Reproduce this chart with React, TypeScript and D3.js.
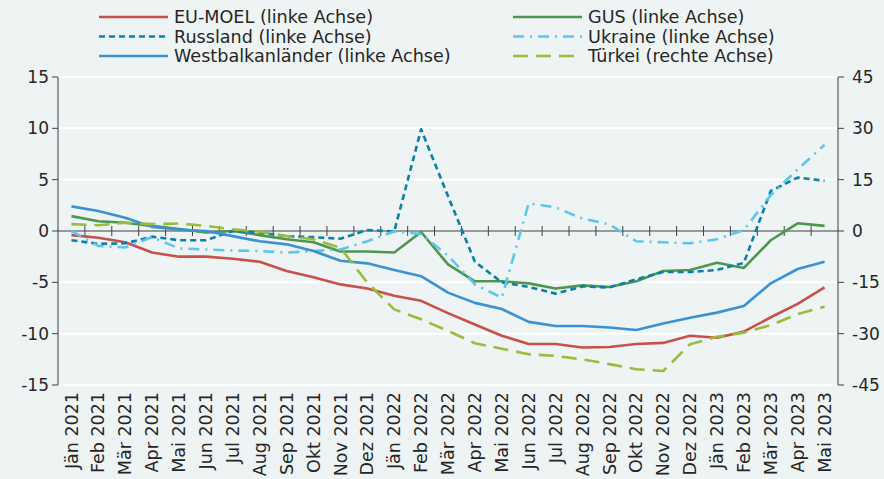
import React from 'react'
import * as d3 from 'd3'

const months = [
  'Jän 2021', 'Feb 2021', 'Mär 2021', 'Apr 2021', 'Mai 2021', 'Jun 2021', 'Jul 2021',
  'Aug 2021', 'Sep 2021', 'Okt 2021', 'Nov 2021', 'Dez 2021', 'Jän 2022', 'Feb 2022',
  'Mär 2022', 'Apr 2022', 'Mai 2022', 'Jun 2022', 'Jul 2022', 'Aug 2022', 'Sep 2022',
  'Okt 2022', 'Nov 2022', 'Dez 2022', 'Jän 2023', 'Feb 2023', 'Mär 2023', 'Apr 2023',
  'Mai 2023',
]

// left axis series
const euMoel = [
  -0.4, -0.65, -1.1, -2.1, -2.5, -2.5, -2.7, -3.0, -3.9, -4.5, -5.2, -5.6, -6.3, -6.8,
  -8.0, -9.1, -10.2, -11.0, -11.0, -11.35, -11.3, -11.0, -10.9, -10.2, -10.4, -9.8,
  -8.4, -7.1, -5.5,
]
const gus = [
  1.45, 0.95, 0.8, 0.5, 0.2, -0.15, 0.0, -0.4, -0.8, -1.1, -2.0, -2.0, -2.1, -0.1,
  -3.25, -4.9, -4.9, -5.1, -5.6, -5.3, -5.45, -4.9, -3.9, -3.8, -3.1, -3.6, -0.9, 0.75,
  0.5,
]
const russland = [
  -0.9, -1.25, -1.2, -0.55, -0.9, -0.9, 0.0, -0.15, -0.5, -0.6, -0.75, 0.1, -0.05, 9.9,
  3.4, -3.0, -5.0, -5.45, -6.1, -5.4, -5.5, -4.7, -4.0, -4.0, -3.8, -3.1, 3.9, 5.2, 4.9,
]
const ukraine = [
  0.0, -1.45, -1.6, -0.6, -1.7, -1.8, -1.9, -1.95, -2.1, -1.95, -1.8, -1.0, -0.05, -0.3,
  -2.4, -5.2, -6.5, 2.7, 2.3, 1.2, 0.65, -1.0, -1.1, -1.2, -0.8, 0.1, 3.5, 6.0, 8.4,
]
const westbalkan = [
  2.4, 1.95, 1.3, 0.4, 0.15, 0.0, -0.5, -1.0, -1.3, -1.95, -2.9, -3.15, -3.8, -4.4,
  -6.0, -7.0, -7.6, -8.85, -9.25, -9.25, -9.4, -9.65, -9.0, -8.45, -7.95, -7.3, -5.1,
  -3.7, -3.0,
]
// right axis series
const tuerkei = [
  2.0, 1.7, 2.4, 2.0, 2.2, 1.5, 0.5, -0.2, -1.5, -2.4, -4.9, -15.1, -22.9, -25.8,
  -29.2, -32.8, -34.4, -36.0, -36.5, -37.5, -38.9, -40.4, -40.9, -33.1, -30.9, -29.7,
  -27.5, -24.3, -22.1,
]

const leftTicks = [15, 10, 5, 0, -5, -10, -15]
const rightTicks = [45, 30, 15, 0, -15, -30, -45]

const W = 884
const H = 479
const plot = { left: 58, right: 838, top: 77, bottom: 385 }
const font = '"DejaVu Sans", sans-serif'
const textColor = '#262626'
const axisColor = '#404040'

const series = [
  { name: 'EU-MOEL (linke Achse)', values: euMoel, color: '#C9504A', dash: null, axis: 'left' },
  { name: 'GUS (linke Achse)', values: gus, color: '#4E9650', dash: null, axis: 'left' },
  { name: 'Russland (linke Achse)', values: russland, color: '#0A7FA8', dash: '6 4', axis: 'left' },
  { name: 'Ukraine (linke Achse)', values: ukraine, color: '#5DC6EC', dash: '11 6 2 6', axis: 'left' },
  { name: 'Westbalkanländer (linke Achse)', values: westbalkan, color: '#3A91D4', dash: null, axis: 'left' },
  { name: 'Türkei (rechte Achse)', values: tuerkei, color: '#9BBB3C', dash: '15 8', axis: 'right' },
]

export default function App() {
  const x = d3.scaleBand<string>().domain(months).range([plot.left, plot.right])
  const yL = d3.scaleLinear().domain([-15, 15]).range([plot.bottom, plot.top])
  const yR = d3.scaleLinear().domain([-45, 45]).range([plot.bottom, plot.top])
  const cx = (i: number) => (x(months[i]) as number) + x.bandwidth() / 2

  const lineFor = (axis: string) =>
    d3
      .line<number>()
      .x((_, i) => cx(i))
      .y(d => (axis === 'left' ? yL(d) : yR(d)))

  const y0 = yL(0)
  // legend: two columns, three rows
  const legendCols = [99, 513]
  const legendRows = [17, 36.5, 56]

  return (
    <svg width={W} height={H} style={{ position: 'absolute', left: 0, top: 0 }} fontFamily={font}>
      <rect width={W} height={H} fill="#EEF4F4" />

      {/* gridlines */}
      {leftTicks.filter(t => t !== 0).map(t => (
        <line key={t} x1={plot.left} x2={plot.right} y1={yL(t)} y2={yL(t)} stroke="#fff" strokeWidth={2} />
      ))}

      {/* left axis */}
      <line x1={plot.left} x2={plot.left} y1={plot.top} y2={plot.bottom} stroke={axisColor} strokeWidth={1} />
      {leftTicks.map(t => (
        <g key={t}>
          <line x1={plot.left - 6} x2={plot.left} y1={yL(t)} y2={yL(t)} stroke={axisColor} />
          <text x={49} y={yL(t)} dy="0.36em" textAnchor="end" fontSize={17} fill={textColor}>
            {t}
          </text>
        </g>
      ))}

      {/* right axis */}
      <line x1={plot.right} x2={plot.right} y1={plot.top} y2={plot.bottom} stroke={axisColor} strokeWidth={1} />
      {rightTicks.map(t => (
        <g key={t}>
          <line x1={plot.right} x2={plot.right + 6} y1={yR(t)} y2={yR(t)} stroke={axisColor} />
          <text x={852} y={yR(t)} dy="0.36em" textAnchor="start" fontSize={17} fill={textColor}>
            {t}
          </text>
        </g>
      ))}

      {/* zero line with category ticks */}
      <line x1={plot.left} x2={plot.right} y1={y0} y2={y0} stroke={axisColor} strokeWidth={1.2} />
      {months.slice(1).map(m => (
        <line key={m} x1={x(m)} x2={x(m)} y1={y0 - 5} y2={y0 + 5} stroke={axisColor} />
      ))}

      {/* series */}
      {series.map(s => (
        <path
          key={s.name}
          d={lineFor(s.axis)(s.values) || ''}
          fill="none"
          stroke={s.color}
          strokeWidth={2.6}
          strokeDasharray={s.dash || undefined}
          strokeLinejoin="round"
        />
      ))}

      {/* x labels */}
      {months.map((m, i) => (
        <text
          key={m}
          transform={`translate(${cx(i)},392) rotate(-90)`}
          dy="0.35em"
          textAnchor="end"
          fontSize={17.5}
          fill={textColor}
        >
          {m}
        </text>
      ))}

      {/* legend */}
      {series.map((s, idx) => {
        const lx = legendCols[idx % 2]
        const ly = legendRows[Math.floor(idx / 2)]
        return (
          <g key={s.name}>
            <line
              x1={lx}
              x2={lx + 69}
              y1={ly}
              y2={ly}
              stroke={s.color}
              strokeWidth={2.6}
              strokeDasharray={s.dash || undefined}
            />
            <text x={lx + 75} y={ly} dy="0.35em" fontSize={17.6} fill={textColor}>
              {s.name}
            </text>
          </g>
        )
      })}
    </svg>
  )
}
